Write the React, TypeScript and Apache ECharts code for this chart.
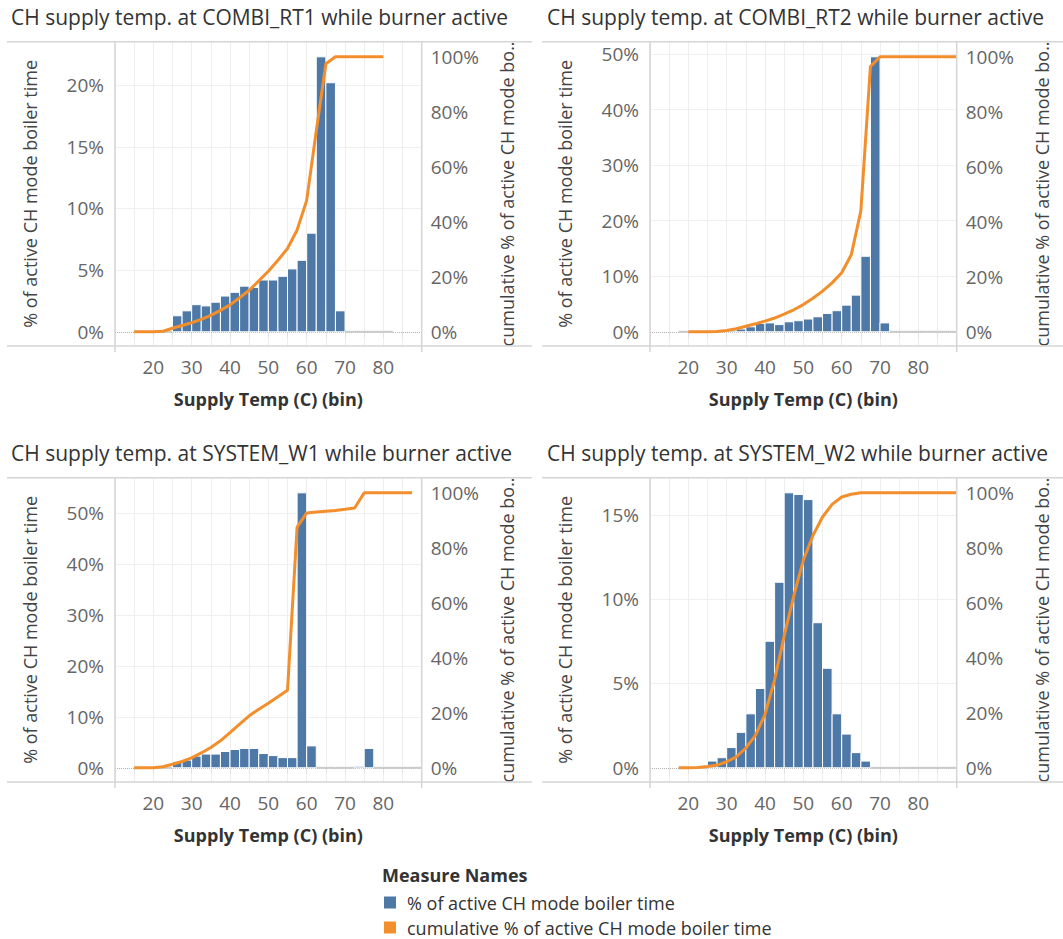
import React, { useEffect, useRef } from "react";
import * as echarts from "echarts";

// ---------- data ----------
const BIN_WIDTH = 2.5;

const rt1Bins = [15, 17.5, 20, 22.5, 25, 27.5, 30, 32.5, 35, 37.5, 40, 42.5, 45, 47.5, 50, 52.5, 55, 57.5, 60, 62.5, 65, 67.5, 70, 72.5, 75, 77.5, 80];
const rt1Share = [0, 0, 0, 0, 1.3, 1.7, 2.2, 2.1, 2.4, 2.9, 3.2, 3.7, 3.6, 4.2, 4.2, 4.5, 5.1, 5.8, 8.0, 22.3, 20.2, 1.7, 0, 0, 0, 0, 0];
const rt1Cumulative = [0, 0, 0, 0.2, 1.3, 2.3, 3.3, 4.5, 6.0, 7.8, 9.8, 12.4, 15.1, 18.5, 22.0, 26.0, 30.3, 37.0, 47.8, 73.0, 97.5, 100, 100, 100, 100, 100, 100];

const rt2Bins = [17.5, 20, 22.5, 25, 27.5, 30, 32.5, 35, 37.5, 40, 42.5, 45, 47.5, 50, 52.5, 55, 57.5, 60, 62.5, 65, 67.5, 70, 72.5, 75, 77.5, 80, 82.5, 85, 87.5, 90];
const rt2Share = [0, 0, 0, 0, 0.1, 0.3, 0.5, 0.9, 1.5, 1.6, 1.3, 1.8, 2.0, 2.3, 2.7, 3.3, 3.8, 4.8, 6.6, 13.6, 49.5, 1.6, 0, 0, 0, 0, 0, 0, 0, 0];
const rt2Cumulative = [null, 0, 0, 0, 0.1, 0.5, 1.1, 2.0, 2.9, 3.9, 5.0, 6.4, 8.0, 9.9, 12.2, 14.8, 17.8, 21.5, 28.0, 44.0, 96.5, 100, 100, 100, 100, 100, 100, 100, 100, 100];

const w1Bins = [15, 17.5, 20, 22.5, 25, 27.5, 30, 32.5, 35, 37.5, 40, 42.5, 45, 47.5, 50, 52.5, 55, 57.5, 60, 62.5, 65, 67.5, 70, 72.5, 75, 77.5, 80, 82.5, 85, 87.5];
const w1Share = [0, 0, 0, 0, 1.2, 1.5, 2.3, 2.7, 2.7, 3.2, 3.6, 3.8, 3.8, 2.8, 2.4, 2.0, 2.0, 54.0, 4.3, 0, 0, 0, 0, 0.3, 3.8, 0, 0, 0, 0, 0];
const w1Cumulative = [0, 0, 0, 0.4, 1.3, 2.3, 3.6, 5.4, 7.4, 9.8, 12.8, 15.9, 18.9, 21.3, 23.5, 25.8, 28.2, 87.5, 92.7, 93.0, 93.3, 93.6, 94.0, 94.5, 100, 100, 100, 100, 100, 100];

const w2Bins = [17.5, 20, 22.5, 25, 27.5, 30, 32.5, 35, 37.5, 40, 42.5, 45, 47.5, 50, 52.5, 55, 57.5, 60, 62.5, 65, 67.5, 70, 72.5, 75, 77.5, 80, 82.5, 85, 87.5, 90];
const w2Share = [0, 0, 0, 0.4, 0.6, 1.2, 2.1, 3.2, 4.7, 7.5, 11.0, 16.3, 16.2, 15.9, 8.6, 5.9, 3.2, 2.0, 0.9, 0.4, 0, 0, 0, 0, 0, 0, 0, 0, 0, 0];
const w2Cumulative = [0, 0, 0.1, 0.5, 1.0, 2.2, 4.0, 7.2, 11.8, 19.4, 32.0, 48.0, 62.5, 75.5, 84.5, 91.2, 95.8, 98.5, 99.5, 100, 100, 100, 100, 100, 100, 100, 100, 100, 100, 100];

const rt1ShareTicks = [0, 5, 10, 15, 20];
const rt2ShareTicks = [0, 10, 20, 30, 40, 50];
const w1ShareTicks = [0, 10, 20, 30, 40, 50];
const w2ShareTicks = [0, 5, 10, 15];
const cumulativeTicks = [0, 20, 40, 60, 80, 100];
const tempTicks = [20, 30, 40, 50, 60, 70, 80];

const panelTitles = [
  "CH supply temp. at COMBI_RT1 while burner active",
  "CH supply temp. at COMBI_RT2 while burner active",
  "CH supply temp. at SYSTEM_W1 while burner active",
  "CH supply temp. at SYSTEM_W2 while burner active",
];

const SHARE_NAME = "% of active CH mode boiler time";
const CUM_NAME = "cumulative % of active CH mode boiler time";
const CUM_AXIS_NAME = "cumulative % of active CH mode bo..";
const X_NAME = "Supply Temp (C) (bin)";

// ---------- styling / layout ----------
const BLUE = "#4e79a7";
const ORANGE = "#f28e2b";
const FONT = '"Open Sans", sans-serif';
const X_MIN = 10;
const X_MAX = 90;
const CUM_MIN = -5.2;
const CUM_MAX = 105.5;

const COL_LEFT = [115, 650];
const COL_FRAME = [
  [7, 532],
  [542, 1063],
];
const ROW_TOP = [41.7, 477.7];
const GRID_W = 306.7;
const GRID_H = 304.4;

const panels = [
  { bins: rt1Bins, share: rt1Share, cum: rt1Cumulative, ticks: rt1ShareTicks, col: 0, row: 0 },
  { bins: rt2Bins, share: rt2Share, cum: rt2Cumulative, ticks: rt2ShareTicks, col: 1, row: 0 },
  { bins: w1Bins, share: w1Share, cum: w1Cumulative, ticks: w1ShareTicks, col: 0, row: 1 },
  { bins: w2Bins, share: w2Share, cum: w2Cumulative, ticks: w2ShareTicks, col: 1, row: 1 },
];

const renderBar = (params: any, api: any) => {
  const start = api.value(0);
  const share = api.value(1);
  const base = api.coord([start, 0]);
  const end = api.coord([start + BIN_WIDTH, share]);
  if (share === 0) {
    return {
      type: "line",
      shape: { x1: base[0], y1: base[1], x2: end[0], y2: base[1] },
      style: { stroke: "#cbcbcb", lineWidth: 2 },
    };
  }
  return {
    type: "rect",
    shape: { x: base[0], y: end[1], width: end[0] - base[0], height: base[1] - end[1] },
    style: { fill: BLUE, stroke: "#ffffff", lineWidth: 1 },
  };
};

function buildOption() {
  const grid: any[] = [];
  const xAxis: any[] = [];
  const yAxis: any[] = [];
  const series: any[] = [];
  const title: any[] = [];
  const graphic: any[] = [];
  const frameStyle = { stroke: "#d5d5d5", lineWidth: 1.5 };

  panels.forEach((p, i) => {
    const left = COL_LEFT[p.col];
    const top = ROW_TOP[p.row];
    grid.push({ left, top, width: GRID_W, height: GRID_H, containLabel: false, outerBoundsMode: "none" });

    const shareMax = (Math.max(...p.share) * CUM_MAX) / 100;
    const shareMin = (CUM_MIN / CUM_MAX) * shareMax;

    xAxis.push({
      gridIndex: i,
      type: "value",
      min: X_MIN,
      max: X_MAX,
      interval: 5,
      name: X_NAME,
      nameLocation: "middle",
      nameGap: 44,
      nameTextStyle: { fontSize: 18, fontWeight: "bold", color: "#333", fontFamily: FONT },
      axisLine: { show: false },
      axisTick: { show: true, length: 6, lineStyle: { color: "#e2e2e2" } },
      axisLabel: {
        customValues: tempTicks,
        fontSize: 19,
        color: "#666",
        fontFamily: FONT,
        margin: 11,
      },
      splitLine: { show: true, lineStyle: { color: "#eeeeee", width: 1 } },
    });

    yAxis.push({
      gridIndex: i,
      type: "value",
      position: "left",
      min: shareMin,
      max: shareMax,
      name: SHARE_NAME,
      nameLocation: "middle",
      nameRotate: 90,
      nameGap: 76,
      nameTextStyle: { fontSize: 18, color: "#444", fontFamily: FONT },
      axisLine: { show: false },
      axisTick: { show: false, customValues: p.ticks.filter((t) => t !== 0) },
      axisLabel: {
        customValues: p.ticks,
        formatter: "{value}%",
        fontSize: 19,
        color: "#666",
        fontFamily: FONT,
        margin: 11,
      },
      splitLine: { show: true, lineStyle: { color: "#f0f0f0", width: 1 } },
    });

    yAxis.push({
      gridIndex: i,
      type: "value",
      position: "right",
      min: CUM_MIN,
      max: CUM_MAX,
      name: CUM_AXIS_NAME,
      nameLocation: "middle",
      nameRotate: 90,
      nameGap: 76,
      nameTextStyle: { fontSize: 18, color: "#444", fontFamily: FONT },
      axisLine: { show: false },
      axisTick: { show: false, customValues: cumulativeTicks },
      axisLabel: {
        customValues: cumulativeTicks,
        formatter: "{value}%",
        fontSize: 19,
        color: "#666",
        fontFamily: FONT,
        margin: 9,
      },
      splitLine: { show: false },
    });

    series.push({
      type: "custom",
      name: SHARE_NAME,
      xAxisIndex: i,
      yAxisIndex: 2 * i,
      clip: true,
      z: 2,
      itemStyle: { color: BLUE },
      encode: { x: 0, y: 1 },
      data: p.bins.map((b, j) => [b, p.share[j]]),
      renderItem: renderBar,
      markLine: {
        silent: true,
        symbol: "none",
        z: 1,
        label: { show: false },
        lineStyle: { type: "dotted", color: "#b0b0b0", width: 1 },
        data: [{ yAxis: 0 }],
      },
    });

    series.push({
      type: "line",
      name: CUM_NAME,
      xAxisIndex: i,
      yAxisIndex: 2 * i + 1,
      z: 3,
      symbol: "none",
      showSymbol: false,
      lineStyle: { color: ORANGE, width: 3 },
      itemStyle: { color: ORANGE },
      data: p.bins.map((b, j) => [b, p.cum[j]]).filter((d) => d[1] !== null),
    });

    title.push({
      text: panelTitles[i],
      left: p.col === 0 ? 11 : 547,
      top: p.row === 0 ? 6 : 442,
      padding: 0,
      textStyle: { fontSize: 21, fontWeight: "normal", color: "#333", fontFamily: FONT },
    });

    const [fx0, fx1] = COL_FRAME[p.col];
    const bottom = top + GRID_H;
    const right = left + GRID_W;
    graphic.push(
      { type: "line", silent: true, z: 10, shape: { x1: fx0, y1: top, x2: fx1, y2: top }, style: frameStyle },
      { type: "line", silent: true, z: 10, shape: { x1: fx0, y1: bottom, x2: fx1, y2: bottom }, style: frameStyle },
      { type: "line", silent: true, z: 10, shape: { x1: left, y1: top, x2: left, y2: bottom + 6 }, style: frameStyle },
      { type: "line", silent: true, z: 10, shape: { x1: right, y1: top, x2: right, y2: bottom + 6 }, style: frameStyle }
    );
  });

  graphic.push({
    type: "text",
    left: 382,
    top: 866,
    silent: true,
    style: { text: "Measure Names", font: `bold 18px ${FONT}`, fill: "#333" },
  });

  return {
    animation: false,
    backgroundColor: "#ffffff",
    textStyle: { fontFamily: FONT },
    title,
    grid,
    xAxis,
    yAxis,
    series,
    graphic,
    legend: {
      type: "plain",
      orient: "vertical",
      left: 384,
      top: 893,
      width: 500,
      height: 44,
      padding: 0,
      itemWidth: 12,
      itemHeight: 12,
      itemGap: 6,
      icon: "rect",
      selectedMode: false,
      textStyle: { fontSize: 18, lineHeight: 19, color: "#333", fontFamily: FONT, padding: [0, 0, 0, 6] },
      data: [SHARE_NAME, CUM_NAME],
    },
  };
}

export default function App() {
  const ref = useRef<HTMLDivElement>(null);
  useEffect(() => {
    if (!ref.current) return;
    const chart = echarts.init(ref.current, undefined, { renderer: "svg" });
    chart.setOption(buildOption() as any);
    return () => chart.dispose();
  }, []);
  return (
    <div
      ref={ref}
      style={{ position: "absolute", left: 0, top: 0, width: 1063, height: 939, background: "#fff" }}
    />
  );
}
